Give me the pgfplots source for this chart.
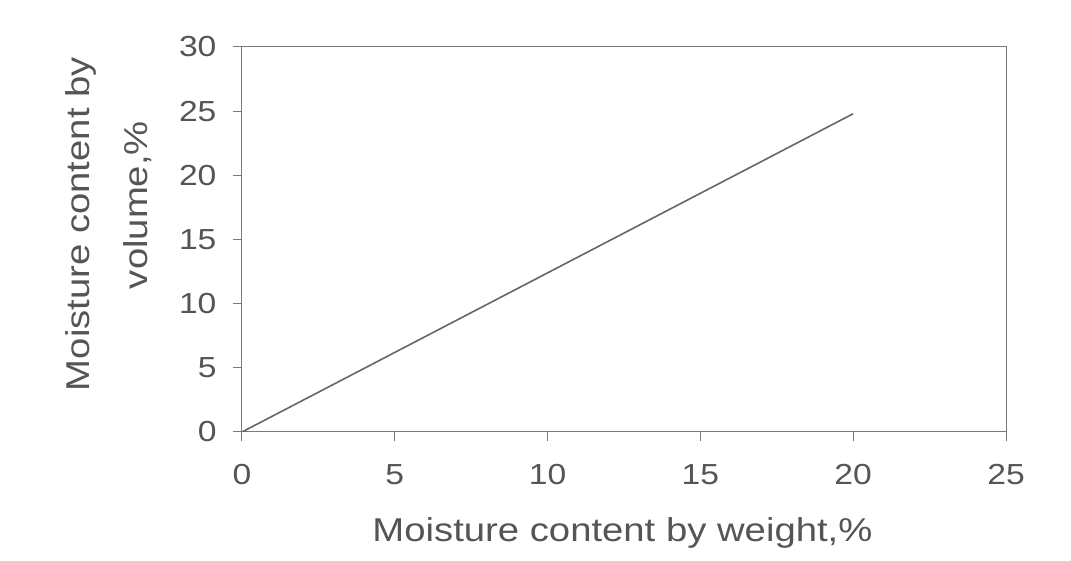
\documentclass[border=0pt]{standalone}
\usepackage{pgfplots}
\pgfplotsset{compat=1.18}
\usepackage{fontspec}
\setmainfont{Liberation Sans}[FakeStretch=1.16]
\definecolor{txt}{HTML}{555555}
\definecolor{ax}{HTML}{7A7A7A}
\definecolor{ln}{HTML}{666666}
\begin{document}
\begin{tikzpicture}[x=1pt,y=1pt]
\path[use as bounding box] (-242,-129) rectangle (829,432);
\begin{axis}[
  at={(0,0)}, anchor=south west,
  scale only axis, width=764pt, height=385pt,
  xmin=0, xmax=25, ymin=0, ymax=30,
  xtick={0,5,...,25}, ytick={0,5,...,30},
  axis line style={ax, line width=1pt},
  tick style={ax, line width=1pt},
  tick align=outside, major tick length=9pt,
  xtick pos=bottom, ytick pos=left,
  /pgf/number format/assume math mode=true,
  ticklabel style={font=\fontsize{29}{33}\selectfont, text=txt},
  xticklabel style={yshift=-20pt},
  yticklabel style={xshift=-13pt},
  xlabel={Moisture content by weight,\%},
  xlabel style={font=\fontsize{33}{38}\selectfont, text=txt, at={(axis description cs:0.498,0)}, anchor=base, yshift=-110pt},
  ylabel={Moisture content by\\[20pt]\hspace*{38pt}volume,\%},
  ylabel style={font=\fontsize{33}{38}\selectfont, text=txt, align=center, at={(axis description cs:-0.175,0.54)}, anchor=center},
]
\addplot[ln, line width=1.6pt, no marks] coordinates {(0,0) (20,24.8)};
\end{axis}
\end{tikzpicture}
\end{document}
